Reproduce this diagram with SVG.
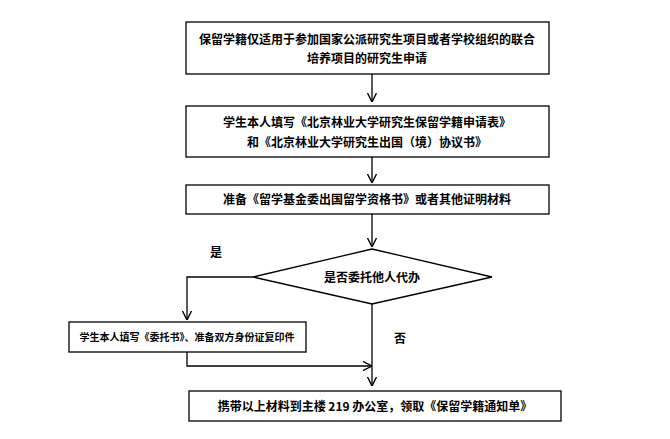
<svg xmlns="http://www.w3.org/2000/svg" width="670" height="439" viewBox="0 0 670 439">
<style>
.b{fill:#fff;stroke:#000;stroke-width:1.3}
text{font-family:"Noto Sans CJK SC","Liberation Sans",sans-serif;font-weight:bold;font-size:12px;fill:#000}
.l{fill:none;stroke:#000;stroke-width:1.3}
</style>
<defs><marker id="a" viewBox="0 0 10 10" refX="10" refY="5" markerWidth="7" markerHeight="7" orient="auto"><path d="M0,0L10,5L0,10" fill="none" stroke="#000" stroke-width="1.5"/></marker></defs>
<rect width="670" height="439" fill="#fff"/>
<g id="connectors">
<path class="l" d="M372,74V102" marker-end="url(#a)"/>
<path class="l" d="M372,157V183" marker-end="url(#a)"/>
<path class="l" d="M372,214V247" marker-end="url(#a)"/>
<path class="l" d="M253,277H187V320" marker-end="url(#a)"/>
<path class="l" d="M372,304V386" marker-end="url(#a)"/>
<path class="l" d="M187,352V366H372" marker-end="url(#a)"/>
</g>
<g id="n1"><rect class="b" x="186" y="22" width="363" height="52"/>
<text x="367" y="44" text-anchor="middle">保留学籍仅适用于参加国家公派研究生项目或者学校组织的联合</text>
<text x="367" y="63" text-anchor="middle">培养项目的研究生申请</text></g>
<g id="n2"><rect class="b" x="186" y="106" width="363" height="51"/>
<text x="367" y="127" text-anchor="middle">学生本人填写《北京林业大学研究生保留学籍申请表》</text>
<text x="367" y="147" text-anchor="middle">和《北京林业大学研究生出国（境）协议书》</text></g>
<g id="n3"><rect class="b" x="186" y="185" width="363" height="29"/>
<text x="367" y="204" text-anchor="middle">准备《留学基金委出国留学资格书》或者其他证明材料</text></g>
<g id="n4"><path class="b" d="M372,249L492,277L372,304L253,277Z"/>
<text x="372" y="282" text-anchor="middle">是否委托他人代办</text></g>
<text x="216" y="257" text-anchor="middle">是</text>
<text x="400" y="343" text-anchor="middle">否</text>
<g id="n5"><rect class="b" x="69" y="322" width="237" height="30"/>
<text x="187" y="341" text-anchor="middle" style="font-size:10px">学生本人填写《委托书》、准备双方身份证复印件</text></g>
<g id="n6"><rect class="b" x="189" y="391" width="372" height="30"/>
<text x="375" y="411" text-anchor="middle">携带以上材料到主楼 219 办公室，领取《保留学籍通知单》</text></g>
</svg>
